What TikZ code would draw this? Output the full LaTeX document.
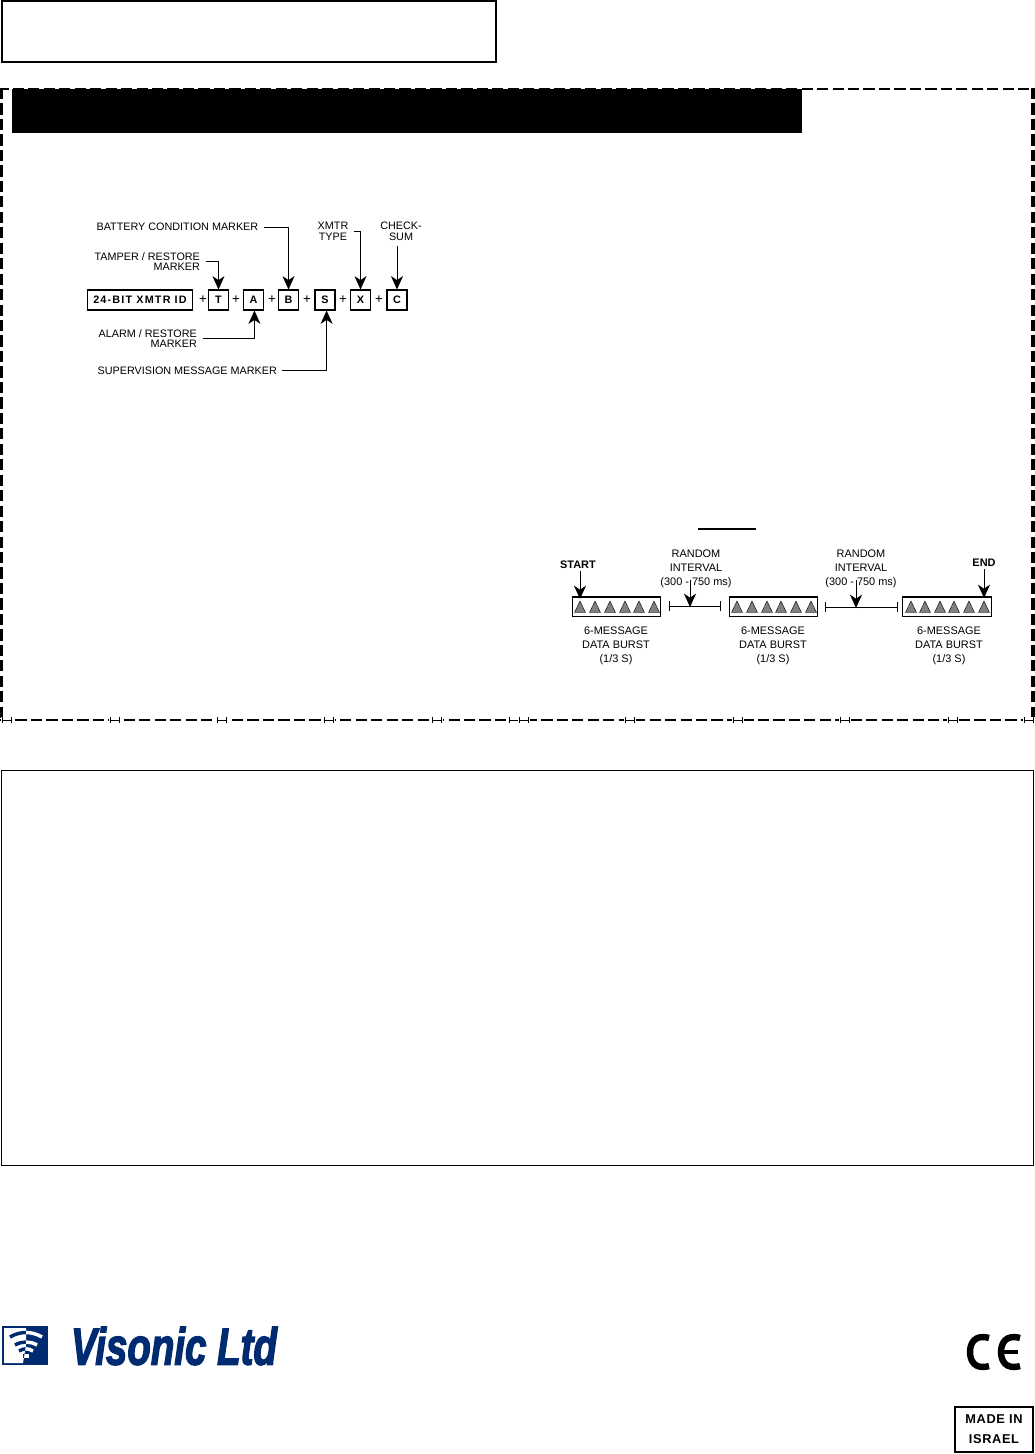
\documentclass[tikz,border=0pt]{standalone}
\usepackage{fontspec}
\usepackage{tikz}
\usetikzlibrary{arrows.meta}
\setmainfont{Liberation Sans}
\newfontfamily\logofont[FakeBold=3]{Liberation Sans}
\newcommand{\lab}{\fontsize{8.1pt}{7.9pt}\selectfont}
\newcommand{\timelab}{\fontsize{8.2pt}{10.5pt}\selectfont}
\definecolor{logoblue}{HTML}{002B70}
\begin{document}
\begin{tikzpicture}[x=0.75pt,y=-0.75pt,
    marklab/.style={font=\lab,inner sep=4pt},
    bitbox/.style={draw,line width=0.8pt,minimum width=15pt,minimum height=15pt,inner sep=0pt,font=\lab\bfseries},
    plus/.style={font=\fontsize{10pt}{10pt}\selectfont,inner sep=0pt},
    pointer/.style={line width=0.7pt,-{Stealth[length=10pt,width=9pt,inset=3pt]}},
    burst/.style={draw,line width=0.8pt,minimum width=66.5pt,minimum height=14.3pt,inner sep=0pt},
    tri/.style={fill=black!50,draw=black,line width=0.3pt},
    timelab/.style={font=\timelab,align=center,inner sep=0pt},
    span/.style={line width=0.7pt,{Bar[width=8pt,length=0.7pt]}-{Bar[width=8pt,length=0.7pt]}},
    edge/.style={dash pattern=on 8.4pt off 3.2pt}]
  \useasboundingbox (0,0) rectangle (1035,1454);

  % frames
  \draw[line width=1.5pt] (2,1) rectangle (496,62);
  \fill (12,89) rectangle (802,133);
  \draw[edge,line width=1.5pt,dash phase=2pt] (0,89) -- (1035,89);
  \draw[edge,line width=2.4pt] (1.5,88) -- (1.5,721);
  \draw[edge,line width=2.6pt] (1033,88) -- (1033,721);
  \draw[edge,line width=2pt] (0,720) -- (1035,720);
  \foreach \x in {7,115,222,329,437,514,524,630,738,845,953,1029} {
    \fill[white] (\x-6,717) rectangle (\x+6,723);
    \draw[line width=0.5pt,{Bar[width=4pt,length=0.5pt]}-{Bar[width=4pt,length=0.5pt]}] (\x-5,720) -- (\x+5,720);
  }
  \draw[line width=0.7pt] (1,770) rectangle (1033,1165);

  % message layout
  \node[bitbox,minimum width=79pt,font=\lab\bfseries\addfontfeature{LetterSpace=11}] (xmtrid) at (140,300) {24-BIT XMTR ID};
  \node[bitbox] (T) at (218.5,300) {T};
  \node[bitbox] (A) at (253.5,300) {A};
  \node[bitbox] (B) at (288.5,300) {B};
  \node[bitbox] (S) at (325,300) {S};
  \node[bitbox] (X) at (360.5,300) {X};
  \node[bitbox] (C) at (397,300) {C};
  \node[plus] (p1) at (203,300) {+};
  \node[plus] (p2) at (236,300) {+};
  \node[plus] (p3) at (272,300) {+};
  \node[plus] (p4) at (307,300) {+};
  \node[plus] (p5) at (343,300) {+};
  \node[plus] (p6) at (379,300) {+};

  \node[marklab,anchor=west] (lbat) at (91,227) {BATTERY CONDITION MARKER};
  \node[marklab,anchor=east,align=right] (ltam) at (205.5,261.5) {TAMPER / RESTORE\\MARKER};
  \node[marklab,align=center] (ltype) at (333,231.5) {XMTR\\TYPE};
  \node[marklab,align=center] (lsum) at (401,231.5) {CHECK-\\SUM};
  \node[marklab,anchor=east,align=right] (lalm) at (202.5,338.5) {ALARM / RESTORE\\MARKER};
  \node[marklab,anchor=west] (lsup) at (92,370.5) {SUPERVISION MESSAGE MARKER};

  \draw[pointer] (lbat.east) -| (B.north);
  \draw[pointer] (ltam.east) -| (T.north);
  \draw[pointer] (ltype.east) -| (X.north);
  \draw[pointer] (C.north |- lsum.south) -- (C.north);
  \draw[pointer] (lalm.east) -| ([xshift=0.7pt]A.south);
  \draw[pointer] (lsup.east) -| ([xshift=1.2pt]S.south);

  % transmission sequence
  \coordinate (ruleL) at (698,529);
  \coordinate (ruleR) at (756,529);
  \draw[line width=0.8pt] (ruleL) -- (ruleR);

  \node[burst] (burst1) at (616.5,606.5) {};
  \node[burst] (burst2) at (773.5,606.5) {};
  \node[burst] (burst3) at (947,606.5) {};
  \foreach \x in {580,595,610,625,639,654,737,752,767,781,796,811,911,925,940,954,969,984}
    \draw[tri] (\x-5.5,612.5) -- (\x,601) -- (\x+5.5,612.5) -- cycle;

  \node[timelab] (data1) at (616,645.5) {6-MESSAGE\\DATA BURST\\(1/3 S)};
  \node[timelab] (data2) at (773,645.5) {6-MESSAGE\\DATA BURST\\(1/3 S)};
  \node[timelab] (data3) at (949,645.5) {6-MESSAGE\\DATA BURST\\(1/3 S)};
  \node[timelab] (rand1) at (696,568.5) {RANDOM\\INTERVAL\\(300 - 750 ms)};
  \node[timelab] (rand2) at (861,568.5) {RANDOM\\INTERVAL\\(300 - 750 ms)};
  \node[timelab,font=\timelab\bfseries,inner sep=2pt] (start) at (578,564.5) {START};
  \node[timelab,font=\timelab\bfseries,inner sep=2pt] (end) at (984,562.5) {END};

  \coordinate (ivl1L) at (669,606);
  \coordinate (ivl1R) at (721,606);
  \coordinate (ivl2L) at (825,607);
  \coordinate (ivl2R) at (898,607);
  \draw[span] (ivl1L) -- (ivl1R);
  \draw[span] (ivl2L) -- (ivl2R);
  \coordinate (ivl1T) at (690,580);
  \coordinate (ivl1M) at (690,607);
  \coordinate (ivl2T) at (856,580);
  \coordinate (ivl2M) at (856,608);
  \draw[pointer] (ivl1T) -- (ivl1M);
  \draw[pointer] (ivl2T) -- (ivl2M);
  \coordinate (firsttri) at (580,599);
  \coordinate (lasttri) at (984,598);
  \draw[pointer] (start.south -| firsttri) -- (firsttri);
  \draw[pointer] (end.south) -- (lasttri);

  % logo
  \fill[logoblue] (2,1326) rectangle (48,1365);
  \fill[white] (4,1328) -- (26,1328) -- (26,1345) -- (23,1363) -- (4,1363) -- cycle;
  \begin{scope}
    \clip (0,1326) -- (26,1326) -- (26,1345) -- (23,1365) -- (0,1365) -- cycle;
    \draw[logoblue,line width=2.6pt] (10,1337) .. controls (20,1331) and (32,1331) .. (42,1337);
    \draw[logoblue,line width=2.6pt] (15,1345) .. controls (22,1341) and (30,1341) .. (37,1345);
    \draw[logoblue,line width=2.6pt] (19,1351) .. controls (24,1348) and (28,1348) .. (33,1351);
    \draw[logoblue,line width=2.6pt] (23,1356) -- (29,1356);
  \end{scope}
  \begin{scope}
    \clip (26,1326) -- (48,1326) -- (48,1365) -- (23,1365) -- (26,1345) -- cycle;
    \draw[white,line width=2.6pt] (10,1337) .. controls (20,1331) and (32,1331) .. (42,1337);
    \draw[white,line width=2.6pt] (15,1345) .. controls (22,1341) and (30,1341) .. (37,1345);
    \draw[white,line width=2.6pt] (19,1351) .. controls (24,1348) and (28,1348) .. (33,1351);
    \draw[white,line width=2.6pt] (23,1356) -- (29,1356);
  \end{scope}
  \node[text=logoblue,inner sep=0pt] (visonic) at (174,1346) {\scalebox{0.74}[1]{\logofont\bfseries\itshape\fontsize{39pt}{39pt}\selectfont Visonic Ltd}};

  % marks
  \draw[line width=4.8pt] (989,1338) .. controls (975,1334) and (970,1343) .. (970,1352) .. controls (970,1361) and (975,1370) .. (989,1366);
  \draw[line width=4.8pt] (1020,1338) .. controls (1006,1334) and (1001,1343) .. (1001,1352) .. controls (1001,1361) and (1006,1370) .. (1020,1366);
  \draw[line width=3.2pt] (1001,1352) -- (1018,1352);
  \node[draw,line width=1.5pt,minimum width=59pt,minimum height=34pt,inner sep=0pt,align=center,
    font=\fontsize{9.6pt}{15pt}\selectfont\bfseries\addfontfeature{LetterSpace=5}] (madein) at (994,1429.5) {MADE IN\\ISRAEL};
\end{tikzpicture}
\end{document}
